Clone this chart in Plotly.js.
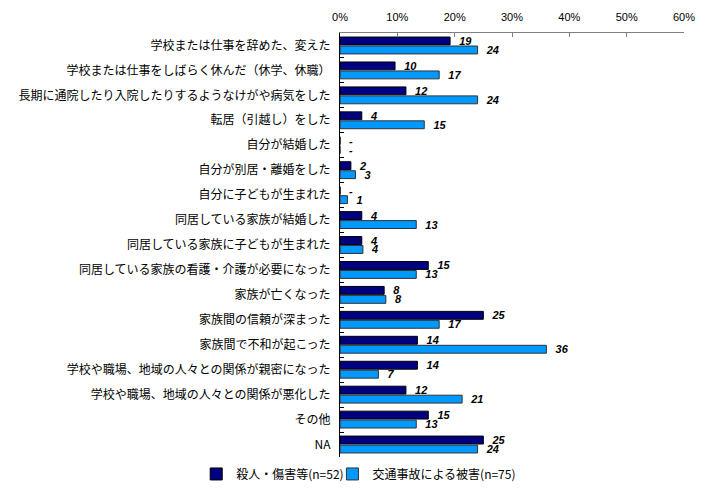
<!DOCTYPE html>
<html>
<head>
<meta charset="utf-8">
<script src="https://cdn.plot.ly/plotly-3.0.1.min.js"></script>
<style>html,body{margin:0;padding:0;background:#fff;}#chart{width:713px;height:494px;}</style>
</head>
<body>
<div id="chart"></div>
<script>
const categories = [
  "学校または仕事を辞めた、変えた",
  "学校または仕事をしばらく休んだ（休学、休職）",
  "長期に通院したり入院したりするようなけがや病気をした",
  "転居（引越し）をした",
  "自分が結婚した",
  "自分が別居・離婚をした",
  "自分に子どもが生まれた",
  "同居している家族が結婚した",
  "同居している家族に子どもが生まれた",
  "同居している家族の看護・介護が必要になった",
  "家族が亡くなった",
  "家族間の信頼が深まった",
  "家族間で不和が起こった",
  "学校や職場、地域の人々との関係が親密になった",
  "学校や職場、地域の人々との関係が悪化した",
  "その他",
  "NA"
];
const seriesNames = ["殺人・傷害等(n=52)", "交通事故による被害(n=75)"];
const murderValues = [19.2, 9.6, 11.5, 3.8, 0, 1.9, 0, 3.8, 3.8, 15.4, 7.7, 25.0, 13.5, 13.5, 11.5, 15.4, 25.0];
const trafficValues = [24.0, 17.3, 24.0, 14.7, 0, 2.7, 1.3, 13.3, 4.0, 13.3, 8.0, 17.3, 36.0, 6.7, 21.3, 13.3, 24.0];
const tickValues = [0, 10, 20, 30, 40, 50, 60];
const tickLabels = ["0%", "10%", "20%", "30%", "40%", "50%", "60%"];

function labels(vals) {
  return vals.map(v => '\u00a0\u00a0' + (v === 0 ? '-' : String(Math.round(v))));
}
const labelFont = {family: '"Liberation Sans", Arial, sans-serif', size: 11, color: '#000', weight: 'bold', style: 'italic'};

const traces = [
  {
    type: 'bar', orientation: 'h', name: seriesNames[0], legend: 'legend',
    y: categories, x: murderValues,
    text: labels(murderValues), textposition: 'outside', textangle: 0,
    textfont: labelFont, cliponaxis: false, constraintext: 'none',
    marker: {color: '#000080', line: {color: '#000000', width: 1}},
    hoverinfo: 'x+y'
  },
  {
    type: 'bar', orientation: 'h', name: seriesNames[1], legend: 'legend2',
    y: categories, x: trafficValues,
    text: labels(trafficValues), textposition: 'outside', textangle: 0,
    textfont: labelFont, cliponaxis: false, constraintext: 'none',
    marker: {color: '#0099FF', line: {color: '#333333', width: 1}},
    hoverinfo: 'x+y'
  }
];

const legendFont = {size: 12, family: '"Noto Sans CJK JP", sans-serif', color: '#000'};
const layout = {
  width: 713, height: 494,
  margin: {l: 340, r: 29, t: 33, b: 37, pad: 0, autoexpand: false},
  paper_bgcolor: '#fff', plot_bgcolor: '#fff',
  font: {family: '"Noto Sans CJK JP", "Liberation Sans", sans-serif', size: 12, color: '#000'},
  barmode: 'group', bargap: 0.28, bargroupgap: 0.12,
  showlegend: true,
  legend: {
    orientation: 'h', x: -0.418, xanchor: 'left', y: -0.04, yanchor: 'middle',
    font: legendFont, itemwidth: 30, bgcolor: 'rgba(0,0,0,0)'
  },
  legend2: {
    orientation: 'h', x: -0.022, xanchor: 'left', y: -0.04, yanchor: 'middle',
    font: legendFont, itemwidth: 30, bgcolor: 'rgba(0,0,0,0)'
  },
  xaxis: {
    side: 'top', range: [0, 60], tickvals: tickValues, ticktext: tickLabels,
    showgrid: false, zeroline: false,
    showline: true, linecolor: '#808080', linewidth: 1,
    ticks: 'inside', ticklen: 4, tickcolor: '#808080',
    tickfont: {family: '"Liberation Sans", Arial, sans-serif', size: 11, color: '#000'},
    ticklabelstandoff: 7,
    fixedrange: true
  },
  yaxis: {
    type: 'category', autorange: 'reversed',
    showgrid: false, zeroline: false,
    showline: true, linecolor: '#000', linewidth: 1,
    ticks: 'inside', ticklen: 4, tickcolor: '#000', tickson: 'boundaries',
    tickfont: {family: '"Noto Sans CJK JP", sans-serif', size: 12, color: '#000'},
    ticklabelstandoff: 6,
    fixedrange: true
  }
};

Plotly.newPlot('chart', traces, layout, {displayModeBar: false, staticPlot: true});
</script>
</body>
</html>
